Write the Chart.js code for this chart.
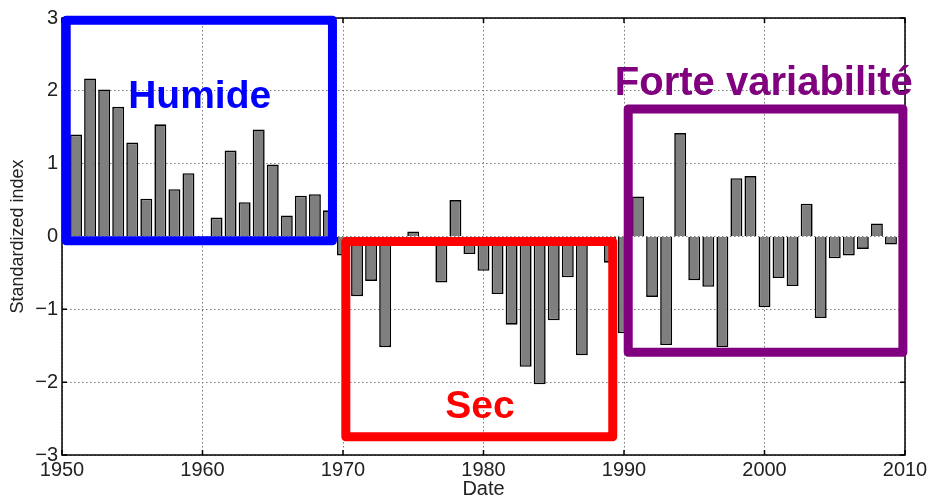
<!DOCTYPE html>
<html>
<head>
<meta charset="utf-8">
<script src="https://cdn.jsdelivr.net/npm/chart.js@4.4.1/dist/chart.umd.min.js"></script>
<style>
  html, body { margin: 0; padding: 0; background: #fff; }
  #wrap { width: 931px; height: 499px; }
</style>
</head>
<body>
<div id="wrap"><canvas id="chart" width="931" height="499"></canvas></div>
<script>
// annual standardized index, 1951-2010 (1950 hidden behind the frame)
const years = [
  1951, 1952, 1953, 1954, 1955, 1956, 1957, 1958, 1959, 1960,
  1961, 1962, 1963, 1964, 1965, 1966, 1967, 1968, 1969, 1970,
  1971, 1972, 1973, 1974, 1975, 1976, 1977, 1978, 1979, 1980,
  1981, 1982, 1983, 1984, 1985, 1986, 1987, 1988, 1989, 1990,
  1991, 1992, 1993, 1994, 1995, 1996, 1997, 1998, 1999, 2000,
  2001, 2002, 2003, 2004, 2005, 2006, 2007, 2008, 2009, 2010
];
const indexValues = [
  1.40, 2.17, 2.02, 1.78, 1.29, 0.52, 1.54, 0.65, 0.87, -0.04,
  0.26, 1.18, 0.47, 1.47, 0.99, 0.29, 0.56, 0.58, 0.36, -0.26,
  -0.82, -0.61, -1.52, -0.05, 0.07, -0.03, -0.63, 0.50, -0.24, -0.47,
  -0.79, -1.21, -1.79, -2.03, -1.15, -0.56, -1.63, -0.04, -0.36, -1.33,
  0.55, -0.83, -1.49, 1.42, -0.60, -0.69, -1.52, 0.80, 0.83, -0.97,
  -0.57, -0.68, 0.45, -1.12, -0.30, -0.26, -0.17, 0.18, -0.11, 0.25
];
const xTicks = [1950, 1960, 1970, 1980, 1990, 2000, 2010];
const yTicks = [-3, -2, -1, 0, 1, 2, 3];

// highlighted periods
const periodNames = ['Humide', 'Sec', 'Forte variabilité'];
const periodYears = [[1950.3, 1969.25], [1970.2, 1989.2], [1990.3, 2009.85]];
const periodIndex = [[-0.06, 2.97], [-2.75, -0.07], [-1.59, 1.75]];
const periodLabelAt = [[1959.8, 1.765], [1979.75, -2.49], [1999.95, 1.94]];
const periodColors = ['#0000ff', '#ff0000', '#800080'];

const FONT = '"Liberation Sans", Arial, Helvetica, sans-serif';

const axisFrame = {
  id: 'axisFrame',
  beforeDatasetsDraw(chart) {
    const { ctx, chartArea: a, scales: { x, y } } = chart;
    ctx.save();
    ctx.strokeStyle = '#000';
    ctx.lineWidth = 1.5;
    ctx.strokeRect(a.left, a.top, a.right - a.left, a.bottom - a.top);
    ctx.beginPath();
    const len = 5;
    xTicks.forEach(v => {
      const px = x.getPixelForValue(v);
      ctx.moveTo(px, a.bottom); ctx.lineTo(px, a.bottom - len);
      ctx.moveTo(px, a.top); ctx.lineTo(px, a.top + len);
    });
    yTicks.forEach(v => {
      const py = y.getPixelForValue(v);
      ctx.moveTo(a.left, py); ctx.lineTo(a.left + len, py);
      ctx.moveTo(a.right, py); ctx.lineTo(a.right - len, py);
    });
    ctx.stroke();
    ctx.restore();
  }
};

const periodBoxes = {
  id: 'periodBoxes',
  afterDatasetsDraw(chart) {
    const { ctx, scales: { x, y } } = chart;
    ctx.save();
    periodNames.forEach((name, i) => {
      const x0 = x.getPixelForValue(periodYears[i][0]);
      const x1 = x.getPixelForValue(periodYears[i][1]);
      const y0 = y.getPixelForValue(periodIndex[i][1]);
      const y1 = y.getPixelForValue(periodIndex[i][0]);
      ctx.strokeStyle = periodColors[i];
      ctx.lineWidth = 9;
      ctx.lineJoin = 'round';
      ctx.strokeRect(x0, y0, x1 - x0, y1 - y0);
      ctx.fillStyle = periodColors[i];
      ctx.font = 'bold ' + (i === 2 ? 40 : 39) + 'px ' + FONT;
      ctx.textAlign = 'center';
      ctx.textBaseline = 'alphabetic';
      ctx.fillText(name, x.getPixelForValue(periodLabelAt[i][0]), y.getPixelForValue(periodLabelAt[i][1]));
    });
    ctx.restore();
  }
};

new Chart(document.getElementById('chart'), {
  type: 'bar',
  data: {
    datasets: [{
      data: years.map((yr, i) => ({ x: yr, y: indexValues[i] })),
      backgroundColor: '#7f7f7f',
      borderColor: '#000',
      borderWidth: 1.6,
      barPercentage: 0.85,
      categoryPercentage: 1,
      clip: 0
    }]
  },
  options: {
    responsive: false,
    animation: false,
    devicePixelRatio: 1,
    layout: { padding: { top: 18, right: 26, left: 0, bottom: 0 } },
    plugins: { legend: { display: false }, tooltip: { enabled: false } },
    scales: {
      x: {
        type: 'linear',
        min: 1950,
        max: 2010,
        offset: false,
        afterBuildTicks: s => { s.ticks = xTicks.map(v => ({ value: v })); },
        afterFit: s => { s.height = 44; },
        ticks: {
          callback: v => String(v),
          color: '#222',
          font: { family: FONT, size: 20 },
          padding: 3,
          maxRotation: 0
        },
        grid: { offset: false, drawTicks: false, color: '#7a7a7a', lineWidth: 1 },
        border: { display: false, dash: [1.5, 2.5] },
        title: {
          display: true,
          text: 'Date',
          color: '#222',
          font: { family: FONT, size: 20, lineHeight: 1 },
          padding: { top: 0, bottom: 0 }
        }
      },
      y: {
        min: -3,
        max: 3,
        afterBuildTicks: s => { s.ticks = yTicks.map(v => ({ value: v })); },
        afterFit: s => { s.width = 62; },
        ticks: {
          callback: v => (v < 0 ? '\u2212' + Math.abs(v) : String(v)),
          color: '#222',
          font: { family: FONT, size: 20 },
          padding: 4
        },
        grid: { drawTicks: false, color: '#7a7a7a', lineWidth: 1 },
        border: { display: false, dash: [1.5, 2.5] },
        title: {
          display: true,
          text: 'Standardized index',
          color: '#222',
          font: { family: FONT, size: 18, lineHeight: 1 },
          padding: { top: 9, bottom: 0 }
        }
      }
    }
  },
  plugins: [axisFrame, periodBoxes]
});
</script>
</body>
</html>
